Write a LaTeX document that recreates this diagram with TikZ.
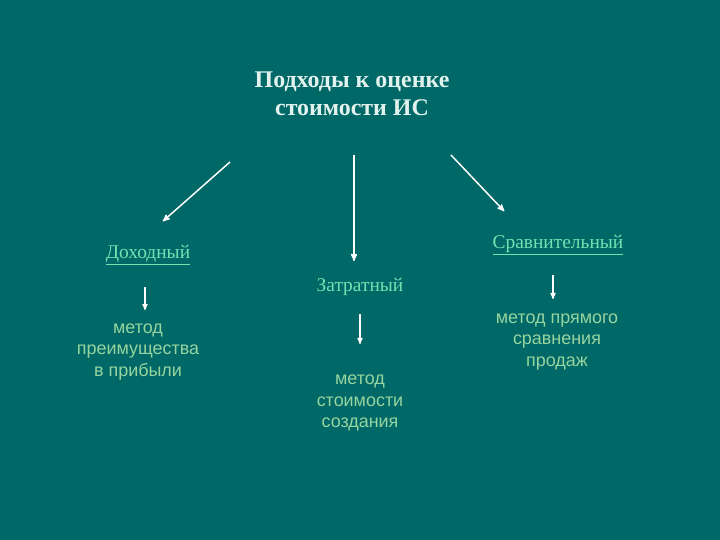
\documentclass[tikz,border=0pt]{standalone}
\usepackage{fontspec}
\setmainfont{Liberation Serif}
\setsansfont{Liberation Sans}
\usetikzlibrary{arrows,positioning}
\definecolor{slide}{RGB}{0,104,102}
\definecolor{kindc}{RGB}{110,228,178}
\definecolor{methodc}{RGB}{150,212,160}
\definecolor{titlec}{RGB}{226,242,238}

\begin{document}
\begin{tikzpicture}[x=1bp,y=-1bp,>=stealth',shorten >=1pt,
  kind/.style={text=kindc,font=\fontsize{19.5}{22}\selectfont},
  method/.style={text=methodc,font=\sffamily\fontsize{18}{21.5}\selectfont,align=center},
  link/.style={->,white,line width=1.5pt}]

\fill[slide] (0,0) rectangle (720,540);
\useasboundingbox (0,0) rectangle (720,540);

\node[text=titlec,font=\bfseries\fontsize{24}{28}\selectfont,align=center] (title) at (352,94) {Подходы к оценке\\стоимости ИС};

\node[kind]   (income)  at (148,255) {\underline{Доходный}};
\node[kind]   (cost)    at (360,287) {Затратный};
\node[kind]   (market)  at (558,245) {\underline{Сравнительный}};

\coordinate (a1) at (230,162);
\coordinate (a2) at (354,155);
\coordinate (a3) at (451,155);
\coordinate (b1) at (162,222);
\coordinate (b2) at (354,262);
\coordinate (b3) at (505,212);

\path[link] (a1) edge (b1)
            (a2) edge (b2)
            (a3) edge (b3);

\node[method] (excess)  at (138,352) {метод\\преимущества\\в прибыли};
\node[method] (build)   at (360,403) {метод\\стоимости\\создания};
\node[method] (compare) at (557,342) {метод прямого\\сравнения\\продаж};

\path[->,white,line width=1.2pt] (145,287) edge (145,311)
   (360,314) edge (360,345)
   (553,275) edge (553,300);

\end{tikzpicture}
\end{document}
